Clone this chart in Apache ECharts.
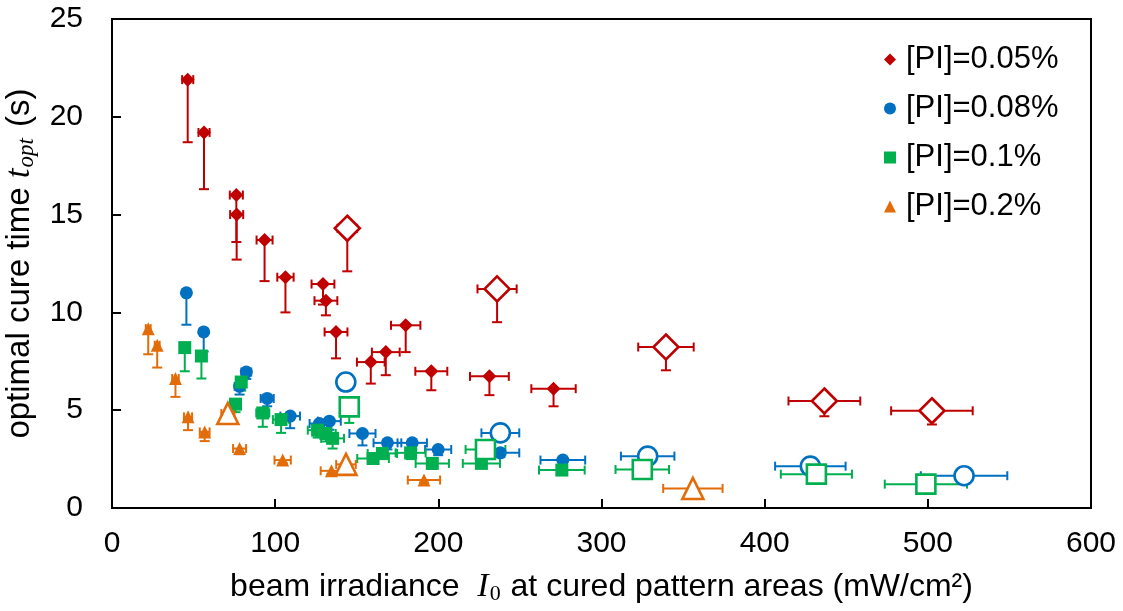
<!DOCTYPE html>
<html><head><meta charset="utf-8">
<script src="https://cdn.jsdelivr.net/npm/echarts@6/dist/echarts.min.js"></script>
<style>html,body{margin:0;padding:0;background:#fff}#c{width:1123px;height:611px}</style>
</head><body><div id="c"></div>
<script>
// Legend / series names
const seriesNames = ['[PI]=0.05%', '[PI]=0.08%', '[PI]=0.1%', '[PI]=0.2%'];
const colors = ['#C00000', '#0070C0', '#00B050', '#E36C0A'];
const xTickValues = [0, 100, 200, 300, 400, 500, 600];
const yTickValues = [0, 5, 10, 15, 20, 25];

// Each point: [irradiance, t_opt, lower end of t_opt error bar, ± irradiance error]
const pi005Filled = [
  [46.4, 21.9, 18.7, 3.4], [56.4, 19.2, 16.3, 3.4], [76.2, 16.0, 13.6, 4], [76.4, 15.0, 12.7, 4],
  [93.5, 13.7, 11.6, 4.9], [106.3, 11.8, 10.0, 5], [129.3, 11.45, 10.4, 7], [131.1, 10.6, 9.85, 7],
  [137.3, 9.0, 7.65, 7], [158.6, 7.46, 6.36, 8.5], [167.8, 7.97, 6.79, 8.5], [180.0, 9.34, 7.97, 9],
  [195.7, 6.99, 6.02, 9.8], [231.3, 6.73, 5.77, 11.9], [270.6, 6.1, 5.2, 13.6]
];
const pi005Hollow = [
  [144.2, 14.3, 12.1, 6], [236.0, 11.2, 9.5, 12], [339.5, 8.23, 7.04, 17],
  [436.6, 5.47, 4.69, 22], [502.5, 4.97, 4.27, 25]
];
const pi008Filled = [
  [45.6, 11.0, 9.37, 2], [56.2, 9.0, 8.0, 2], [82.3, 6.95, 6.6, 3], [78.2, 6.22, 5.8, 3],
  [95.1, 5.6, 5.2, 4], [109.2, 4.7, 4.08, 6], [127.1, 4.32, 4.0, 6], [133.2, 4.44, 4.0, 7],
  [153.5, 3.81, 3.2, 8], [168.8, 3.33, 3.0, 8.5], [184.0, 3.33, 3.0, 9], [199.9, 2.99, 2.7, 8],
  [238.0, 2.82, 2.6, 11.6], [276.3, 2.45, 2.3, 13.7]
];
const pi008Hollow = [
  [143.3, 6.44, 6.0, 5], [238.0, 3.84, 3.5, 11.6], [328.3, 2.65, 2.4, 16.4],
  [428.0, 2.14, 2.0, 21.6], [522.2, 1.65, 1.5, 26.5]
];
const pi01Filled = [
  [44.6, 8.2, 6.99, 2], [54.8, 7.77, 6.62, 2], [79.2, 6.44, 6.0, 3], [75.7, 5.31, 4.9, 3],
  [92.4, 4.86, 4.15, 4], [103.6, 4.52, 3.84, 5], [126.0, 3.98, 3.6, 6], [131.1, 3.81, 3.4, 6],
  [135.2, 3.56, 3.04, 7], [160.0, 2.53, 2.3, 9.7], [165.7, 2.79, 2.5, 9], [183.0, 2.82, 2.5, 9.2],
  [196.3, 2.28, 2.0, 10.2], [226.4, 2.28, 2.1, 11.4], [275.7, 1.94, 1.8, 14]
];
const pi01Hollow = [
  [145.4, 5.17, 4.35, 5], [228.9, 2.99, 2.7, 12.2], [325.0, 1.97, 1.8, 16.4],
  [431.7, 1.73, 1.6, 21.8], [498.8, 1.22, 1.1, 25.2]
];
const pi02Filled = [
  [22.2, 9.17, 7.86, 1.5], [27.7, 8.32, 7.18, 1.5], [38.9, 6.62, 5.68, 2], [46.6, 4.66, 3.98, 2.5],
  [56.8, 3.89, 3.42, 3], [78.2, 3.04, 2.75, 4], [104.6, 2.45, 2.3, 5], [134.5, 1.9, 1.75, 6.6],
  [191.2, 1.43, 1.3, 9.9]
];
const pi02Hollow = [
  [71.0, 4.83, 4.4, 4], [143.4, 2.23, 2.0, 6], [356.0, 1.0, 0.9, 18.2]
];

const FONT = 'Liberation Sans';

function errSeries(data, color) {
  return {
    type: 'custom', data: data, z: 1, silent: true, clip: false,
    encode: { x: 0, y: 1 },
    renderItem: function (params, api) {
      const x = api.value(0), y = api.value(1), yl = api.value(2), xe = api.value(3);
      const c = api.coord([x, y]), l = api.coord([x, yl]);
      const a = api.coord([x - xe, y]), b = api.coord([x + xe, y]);
      const st = { stroke: color, lineWidth: 2 };
      const ln = (x1, y1, x2, y2) => ({ type: 'line', shape: { x1, y1, x2, y2 }, style: st });
      return { type: 'group', children: [
        ln(c[0], c[1], l[0], l[1]), ln(l[0] - 5, l[1], l[0] + 5, l[1]),
        ln(a[0], a[1], b[0], b[1]), ln(a[0], a[1] - 4.5, a[0], a[1] + 4.5), ln(b[0], b[1] - 4.5, b[0], b[1] + 4.5)
      ]};
    }
  };
}
function filledSeries(name, data, symbol, size, color) {
  return { type: 'scatter', name: name, data: data.map(d => [d[0], d[1]]), symbol: symbol,
    symbolSize: size, itemStyle: { color: color, opacity: 1 }, z: 3 };
}
function hollowSeries(data, symbol, size, color) {
  return { type: 'scatter', name: 'hollow', data: data.map(d => [d[0], d[1]]), symbol: symbol,
    symbolSize: size, itemStyle: { color: '#fff', borderColor: color, borderWidth: 2.6, opacity: 1 }, z: 4 };
}

const groups = [
  [pi005Filled, pi005Hollow, 'diamond', 14, 25],
  [pi008Filled, pi008Hollow, 'circle', 13, 19],
  [pi01Filled, pi01Hollow, 'rect', 13, 19],
  [pi02Filled, pi02Hollow, 'triangle', 13, 21]
];
const series = [];
groups.forEach((g, i) => {
  series.push(errSeries(g[0].concat(g[1]), colors[i]));
});
groups.forEach((g, i) => {
  series.push(filledSeries(seriesNames[i], g[0], g[2], g[3], colors[i]));
});
groups.forEach((g, i) => {
  series.push(hollowSeries(g[1], g[2], g[4], colors[i]));
});

const chart = echarts.init(document.getElementById('c'), null, { renderer: 'canvas' });
chart.setOption({
  animation: false,
  backgroundColor: '#fff',
  grid: { left: 112, right: 32, top: 19, bottom: 103, show: true, borderColor: '#000', borderWidth: 2,
    containLabel: false, outerBoundsMode: 'none' },
  legend: {
    orient: 'vertical', left: 879, top: 39, itemGap: 18, itemWidth: 12, itemHeight: 12,
    data: seriesNames,
    textStyle: { fontFamily: FONT, fontSize: 31, color: '#000', padding: [0, 0, 0, 5] }
  },
  xAxis: {
    type: 'value', min: xTickValues[0], max: xTickValues[xTickValues.length - 1], interval: 100,
    splitLine: { show: false },
    axisLine: { lineStyle: { color: '#000', width: 2 } },
    axisTick: { inside: true, length: 9, lineStyle: { color: '#000', width: 2 } },
    axisLabel: { fontFamily: FONT, fontSize: 30, color: '#000', margin: 21 },
    name: '{n|beam irradiance  }{i|I}{s|0}{n| at cured pattern areas (mW/cm²)}',
    nameLocation: 'middle', nameGap: 61,
    nameTextStyle: { rich: {
      n: { fontFamily: FONT, fontSize: 32, color: '#000' },
      i: { fontFamily: 'Liberation Serif', fontStyle: 'italic', fontSize: 34, color: '#000' },
      s: { fontFamily: 'Liberation Serif', fontSize: 22, color: '#000', padding: [14, 1, 0, 1] }
    } }
  },
  yAxis: {
    type: 'value', min: yTickValues[0], max: yTickValues[yTickValues.length - 1], interval: 5,
    splitLine: { show: false },
    axisLine: { lineStyle: { color: '#000', width: 2 } },
    axisTick: { inside: true, length: 9, lineStyle: { color: '#000', width: 2 } },
    axisLabel: { fontFamily: FONT, fontSize: 30, color: '#000', margin: 29 },
    name: '{n|optimal cure time }{i|t}{s|opt}{n| (s)}',
    nameLocation: 'middle', nameRotate: 90, nameGap: 67,
    nameTextStyle: { rich: {
      n: { fontFamily: FONT, fontSize: 33, color: '#000' },
      i: { fontFamily: 'Liberation Serif', fontStyle: 'italic', fontSize: 35, color: '#000' },
      s: { fontFamily: 'Liberation Serif', fontStyle: 'italic', fontSize: 23, color: '#000', padding: [15, 2, 0, 1] }
    } }
  },
  series: series
});
</script></body></html>
